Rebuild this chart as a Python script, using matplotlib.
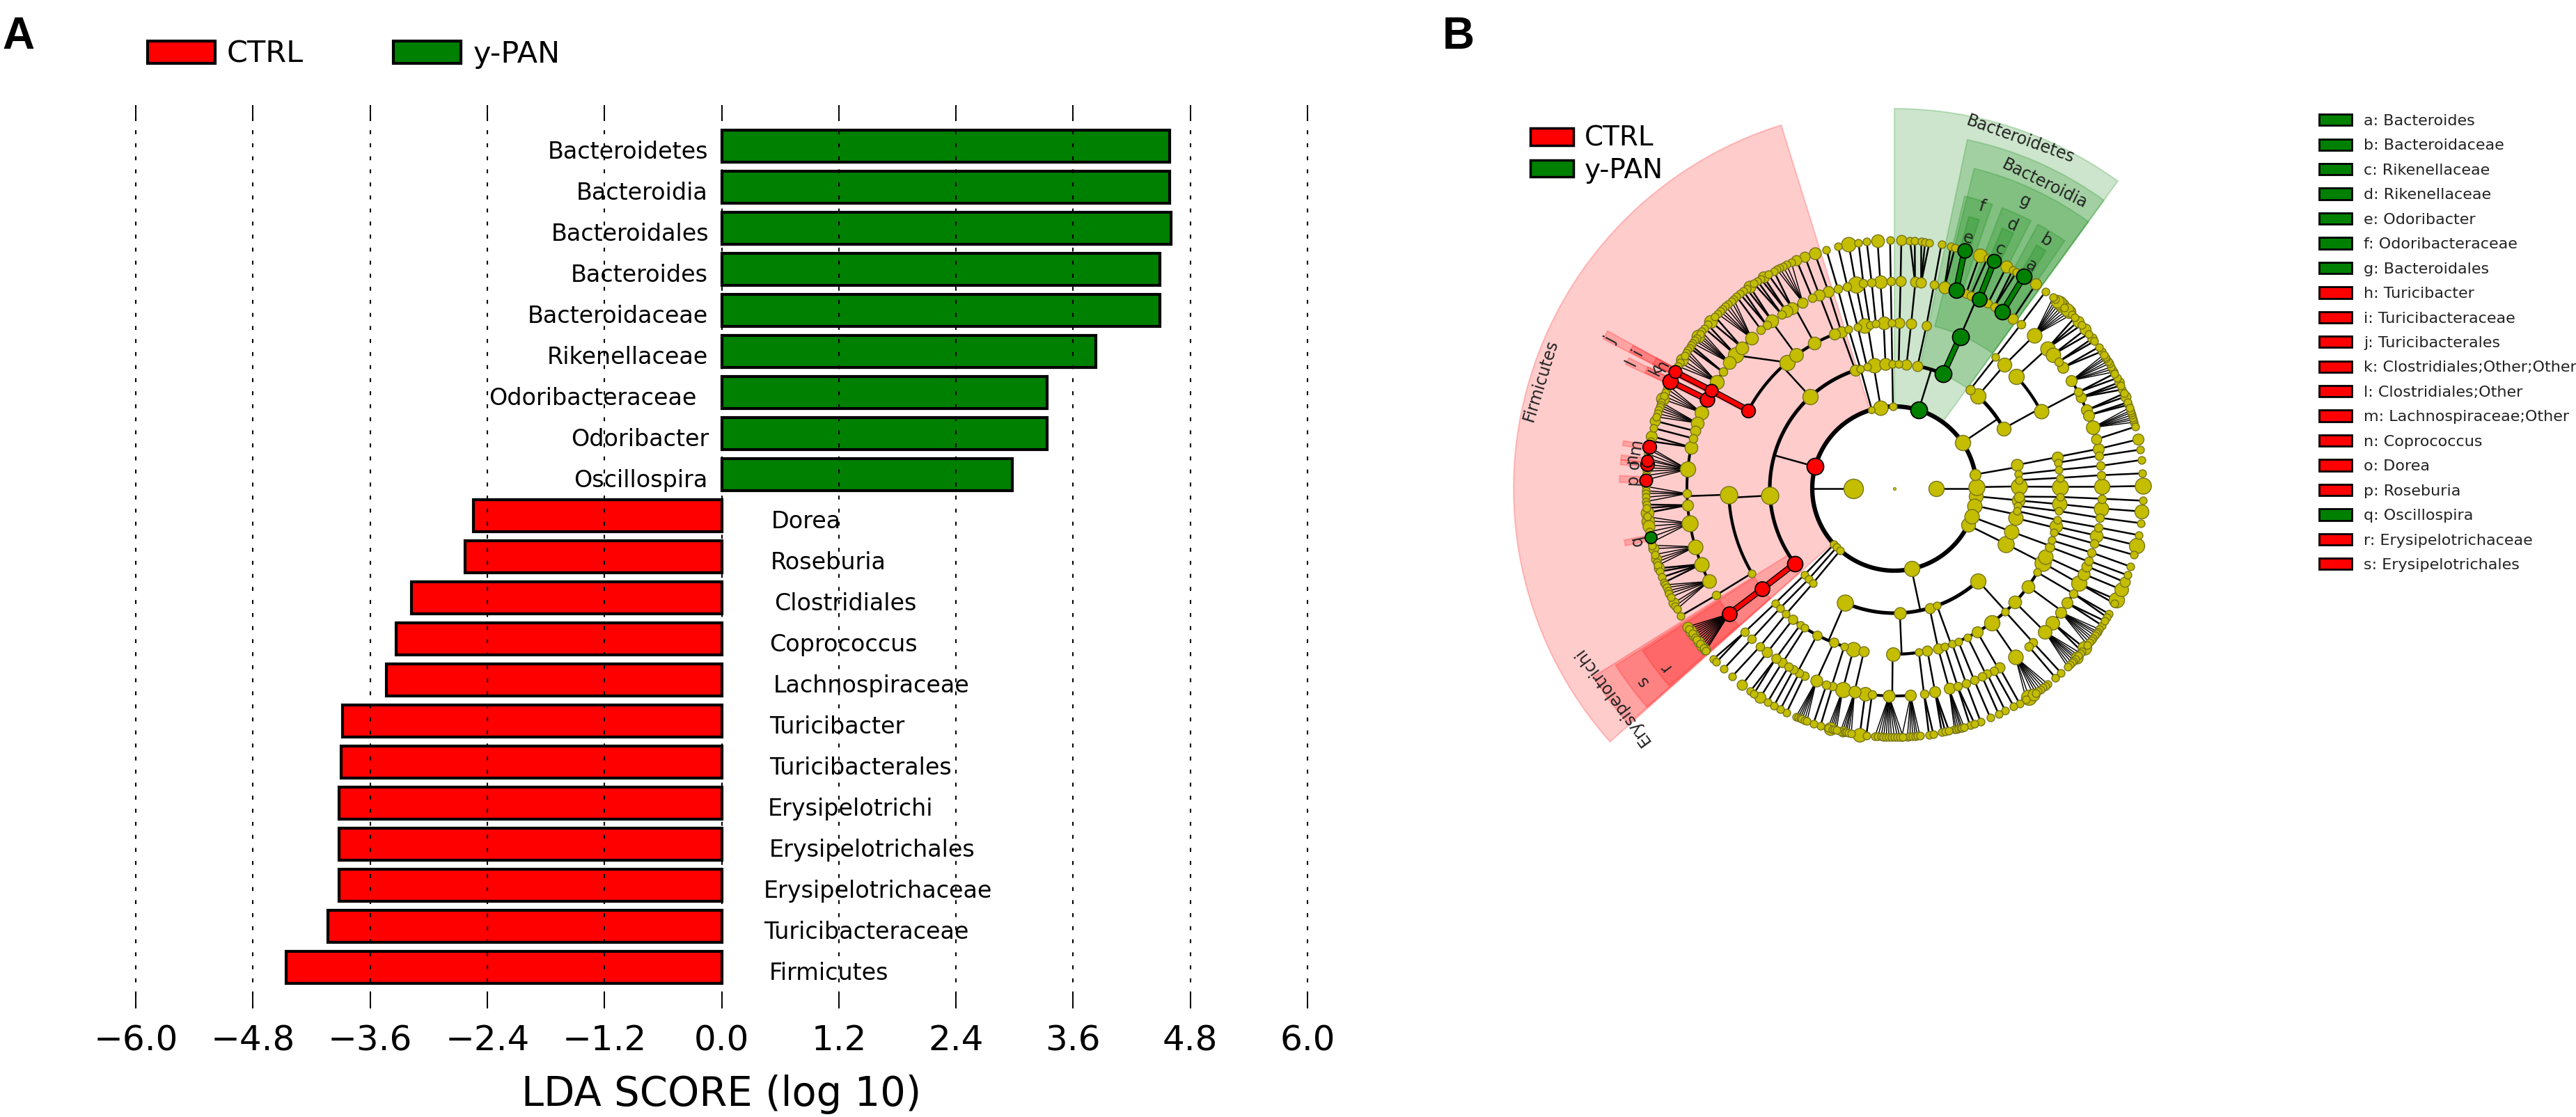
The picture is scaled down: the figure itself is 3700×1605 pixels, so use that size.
import numpy as np
import matplotlib
matplotlib.use("Agg")
import matplotlib.pyplot as plt
from matplotlib.patches import Patch, Wedge

GREEN = "#008000"
RED = "#ff0000"
OLIVE = "#c4bd00"

# panel A, top to bottom
taxa = ["Bacteroidetes", "Bacteroidia", "Bacteroidales", "Bacteroides", "Bacteroidaceae",
        "Rikenellaceae", "Odoribacteraceae", "Odoribacter", "Oscillospira", "Dorea",
        "Roseburia", "Clostridiales", "Coprococcus", "Lachnospiraceae", "Turicibacter",
        "Turicibacterales", "Erysipelotrichi", "Erysipelotrichales", "Erysipelotrichaceae",
        "Turicibacteraceae", "Firmicutes"]
lda_score = [4.59, 4.59, 4.60, 4.49, 4.49, 3.83, 3.33, 3.33, 2.98, -2.54, -2.63, -3.18,
             -3.33, -3.43, -3.88, -3.90, -3.92, -3.92, -3.92, -4.03, -4.46]
x_ticks = [-6.0, -4.8, -3.6, -2.4, -1.2, 0.0, 1.2, 2.4, 3.6, 4.8, 6.0]
# the labels in the source were moved by hand
label_nudge = [0, 0, 0.01, 0, 0, 0, -0.12, 0.01, 0, 0.01, 0, 0.04, -0.01, 0.03, -0.01,
               -0.01, -0.03, -0.01, -0.07, -0.07, -0.01]

# panel B, legend key
key_letters = list("abcdefghijklmnopqrs")
key_names = ["Bacteroides", "Bacteroidaceae", "Rikenellaceae", "Rikenellaceae", "Odoribacter",
             "Odoribacteraceae", "Bacteroidales", "Turicibacter", "Turicibacteraceae",
             "Turicibacterales", "Clostridiales;Other;Other", "Clostridiales;Other",
             "Lachnospiraceae;Other", "Coprococcus", "Dorea", "Roseburia", "Oscillospira",
             "Erysipelotrichaceae", "Erysipelotrichales"]
key_group = ["g"] * 7 + ["r"] * 9 + ["g"] + ["r"] * 2

# cladogram: for each rank, parent angle -> child angles (degrees, ccw from east)
rank_radius = {1: 59.5, 2: 118, 3: 179, 4: 238, 5: 298, 6: 357}
rank1_angle = [180, 0]
rank1_size = [28, 22]

rank3 = {164.5: [108.3, 132.5, 183.2, 217], 106: [105.8], 99.6: [102.7, 99.3, 94.1],
         91: [91, 88, 84.4], 72.8: [79.3, 66.9], 34: [52.6, 48, 28.8], 9.9: [10.9, 6.6],
         1: [3.9, 0.9], -5.4: [-3.7, -5.5, -8], -12: [-10.4, -13.7], -20: [-20.2],
         -26.4: [-26.4], -78: [246.6, 272.5, 286.4, 290, 312.2], 222.7: [223.8],
         225.5: [226.6], 228.8: [229.3]}

rank4 = {108.3: [108.7], 132.5: [151.8, 130.4, 126.3, 118.8, 111.2], 183.2: [182.1, 210.7],
         217: [217.2], 105.8: [106], 102.7: [102.8], 99.3: [100.5, 98.5, 96.4], 94.1: [93.7],
         91: [91], 88: [88.2], 84.4: [84.2], 79.3: [78.9], 66.9: [66.6], 52.6: [52.4],
         48: [48.3], 28.8: [42.5, 27.8], 10.9: [11, 9], 6.6: [6.5], 3.9: [3.7], 0.9: [0.6],
         -3.7: [-2.9], -5.5: [-5.4], -8: [-7.8], -10.4: [-10.9], -13.7: [-13.2, -15.4],
         -20.2: [-18.2, -20.6, -24.2], -26.4: [-26.6],
         246.6: [232.2, 235.4, 237.3, 242.2, 248.5, 252.4, 255.7, 259.4],
         272.5: [269.4, 278.5, 281.5], 286.4: [285.3], 290: [290.4, 287.7],
         312.2: [329.6, 323.8, 316.7, 312, 306, 300, 296.2, 292.7],
         223.8: [223.9], 226.6: [226.3], 229.3: [229.2]}

rank5 = {108.7: [108.5], 111.2: [111.2, 113.3], 118.8: [116.2, 119.5, 121.3, 122.9],
         126.3: [126.1, 128, 130], 130.4: [133.5, 137.2, 139.9, 142.6, 145.8, 149],
         151.8: [151.8, 154.6, 158.5, 161.6, 163.9, 166],
         182.1: [168.5, 174.7, 181.4, 184.6, 189.6, 196.3, 201.4, 206.6], 210.7: [210.9],
         217.2: [217.2], 106: [105.8], 102.8: [103.1], 100.5: [100.7], 98.5: [98.6],
         96.4: [96.3], 93.7: [93.9], 91: [91], 88.2: [88.3], 84.2: [84.3, 82.6], 78.9: [79],
         66.6: [76, 72.7, 69.8, 68.4, 65.9, 63.2, 61.2, 58.6, 55.1], 52.4: [52.4],
         48.3: [47.6], 42.5: [42.5, 40.2, 37.7, 35.7],
         27.8: [31.4, 27.7, 26.1, 22.2, 20.7, 17.1, 13.7], 11: [11], 9: [9.1], 6.5: [6.3],
         3.7: [3.7], 0.6: [0.5], -2.9: [-2.8], -5.4: [-5.5], -7.8: [-8.1], -10.9: [-10.8],
         -13.2: [-13.1], -15.4: [-15.4], -18.2: [-18], -20.6: [-20.4, -22], -24.2: [-24.3],
         -26.6: [-27.2], 329.6: [-30.4, -33.5], 323.8: [-36.6, -40.3], 316.7: [-43.6],
         312: [-48, -49.6], 306: [-54.3], 300: [-59.6, -61.4], 296.2: [-63.4, -65],
         292.7: [-67.4], 290.4: [-69.8], 287.7: [-72.3], 285.3: [-74.7], 281.5: [-78.7],
         278.5: [-81.8], 269.4: [-85.5, 268.5, 263.8, 261.9], 259.4: [258.9], 255.7: [255.6],
         252.4: [252.6, 250.9], 248.5: [247.9], 242.2: [244.3, 242.7],
         237.3: [240.9, 239.3, 237.2], 235.4: [235.1], 232.2: [232.2], 229.2: [229.6],
         226.3: [226.5], 223.9: [223.8]}

rank6 = {108.5: [108.7], 111.2: [111.1], 113.3: [113.2],
         116.2: [114.5, 115.7, 116.6, 117.5, 118.2], 119.5: [119, 120.5], 121.3: [121.7, 122.5],
         122.9: [123.4, 124.4], 126.1: [125.6, 126.5], 128: [127.4, 128.4], 130: [129.4],
         133.5: [130.3, 131, 132, 132.8, 133.8, 134.5, 135.3], 137.2: [136.2, 137.7],
         139.9: [138.7, 139.8], 142.6: [140.8, 141.5, 142.1, 142.8, 143.4, 144.2],
         145.8: [144.8, 145.5], 149: [146.2, 146.9, 147.6, 148.7, 149.6, 150.5],
         151.8: [152], 154.6: [154.4], 158.5: [155.5, 156.3, 157.2, 158.1, 158.9],
         161.6: [159.7, 160.3, 160.9, 161.6, 162.4, 163.2], 163.9: [164.2], 166: [165.9],
         168.5: [167.8, 169], 174.7: [170.4, 171, 172, 173, 173.5, 174.4, 175.2, 176, 177, 178],
         181.4: [179.5, 180.5, 181.1, 182, 183], 184.6: [183.7, 184.5, 185.6],
         189.6: [186.5, 187.5, 188.7, 190, 191.3, 192.5], 196.3: [193.2, 194, 195.4, 196.4, 197.2, 198],
         201.4: [198.7, 199.5, 200.9, 202.2], 206.6: [202.8, 203.5, 204.3, 205, 205.9, 207.4, 208.2, 209],
         210.9: [210.8],
         217.2: [213.8, 214.4, 215, 215.6, 216.2, 216.8, 217.4, 218, 218.6, 219.2, 219.8, 220.3, 220.7],
         105.8: [105.9], 103.1: [103.1], 100.7: [100.6], 98.6: [98.3], 96.3: [96.4], 93.9: [93.9],
         91: [91], 88.3: [88.4], 84.3: [86.4, 85.3], 82.6: [83.8, 82.9, 81.9], 79: [79.1],
         76: [76.9, 75.9], 72.7: [73.6], 69.8: [69.9], 68.4: [68], 65.9: [66.3, 67], 63.2: [63.2],
         61.2: [61.6, 60.6], 58.6: [58.6], 55.1: [55.3], 52.4: [52.5],
         47.6: [44.5, 45.3, 46, 46.8, 47.5, 48.3, 49, 49.6, 50.3], 42.5: [41.2, 42.3, 43.5],
         40.2: [38.5, 39.8], 37.7: [36.4, 37.2], 35.7: [33.5, 34.7],
         31.4: [28, 28.7, 29.3, 30.2, 30.8, 31.5, 32, 32.6], 27.7: [26.4, 27.6],
         26.1: [23.5, 24.5, 25.3], 22.2: [21.7, 22.5], 20.7: [19.7, 20.3],
         17.1: [15.5, 16.1, 16.6, 17.2, 17.8, 18.3, 19], 13.7: [14.4], 11: [11.4], 9.1: [9],
         6.3: [6.6], 3.7: [3.5], 0.5: [0.6], -2.8: [-2.8], -5.5: [-5.3], -8.1: [-8], -10.8: [-10.8],
         -13.1: [-13.2], -15.4: [-15.5], -18: [-18.3], -20.4: [-20.4], -22: [-22.1], -24.3: [-24],
         -27.2: [-26.6, -27.6], -30.4: [-30.3, -31.2], -33.5: [-33.4, -32.2],
         -36.6: [-34.5, -35.2, -35.7, -36.3, -37, -37.6, -38.3, -39], -40.3: [-40, -41],
         -43.6: [-41.5, -42.2, -42.8, -43.3, -43.9, -44.5, -45.2, -45.8], -48: [-47.9],
         -49.6: [-49.6], -54.3: [-51.9, -52.6, -53.3, -54, -54.7, -55.3, -56, -57.2, -58],
         -59.6: [-59.8], -61.4: [-61.3], -63.4: [-63.5], -65: [-65.2], -67.4: [-67.3],
         -69.8: [-69.7], -72.3: [-72.3, -71.2], -74.7: [-76, -75.6, -75.1, -74.6, -74.2, -73.7],
         -78.7: [-79, -78.2, -77.3], -81.8: [-82, -81],
         -85.5: [-88.3, -87, -86.4, -85.8, -85.2, -84.7, -84.1],
         268.5: [265.5, 266.2, 266.9, 267.5, 268.1, 268.7, 269.3, 270, 270.7, 271.3, 272],
         263.8: [263.5], 261.9: [262], 258.9: [257.5, 258, 258.5, 258.9, 259.4, 260],
         255.6: [254.5, 255, 255.5, 256, 256.5], 252.6: [252.7], 250.9: [251],
         247.9: [246.7, 247.2, 247.7, 248.2, 248.8, 249.4], 244.3: [244.3], 242.7: [242.7],
         240.9: [241], 239.3: [239.3], 237.2: [237.3], 235.1: [234.6, 235.6], 232.2: [232.2],
         229.6: [229.2], 226.5: [226.6], 223.8: [223.3, 224.3]}

# node diameters where they differ from the default of their rank
size2 = {164.5: 24, 72.8: 24, 106: 8, 99.6: 17, 91: 9, 34: 22, 9.9: 13, 1: 19, -5.4: 20, -12: 17,
         -20: 17, -26.4: 20, -78: 22}
size3 = {108.3: 13, 99.3: 17, 94.1: 14, 84.4: 12, 79.3: 12, 66.9: 24, 132.5: 22, 183.2: 25,
         217: 22, 52.6: 11, 48: 22, 28.8: 20, 10.9: 14, 0.9: 19, -3.7: 12, -5.5: 15, -13.7: 17,
         -20.2: 17, -26.4: 19, 246.6: 19, 272.5: 14, 286.4: 12, 312.2: 22}
size4 = {151.8: 16, 130.4: 22, 126.3: 16, 118.8: 15, 111.2: 13, 108.7: 13, 100.5: 17, 93.7: 15,
         88.2: 12, 84.2: 12, 78.9: 11, 66.6: 24, 48.3: 20, 42.5: 18, 27.8: 17, 182.1: 25, 217.2: 21,
         11: 13, 0.6: 19, -5.4: 17, -13.2: 15, -20.6: 11, -24.2: 17, -26.6: 19, 323.8: 15,
         316.7: 15, 306: 22, 300: 13, 285.3: 12, 281.5: 12, 269.4: 16, 259.4: 12, 255.7: 17,
         248.5: 11, 242.2: 11, 232.2: 11}
size5 = {133.5: 15, 137.2: 15, 139.9: 18, 142.6: 15, 149: 20, 126.1: 15, 119.5: 14, 121.3: 14,
         116.2: 12, 111.2: 13, 108.5: 13, 151.8: 15, 154.6: 17, 158.5: 16, 161.6: 15, 163.9: 12,
         168.5: 15, 174.7: 22, 184.6: 13, 189.6: 23, 196.3: 21, 201.4: 17, 206.6: 16, 217.2: 21,
         100.7: 19, 93.9: 15, 88.3: 12, 84.3: 12, 82.6: 12, 76: 14, 72.7: 18, 65.9: 21, 58.6: 22,
         55.1: 12, 47.6: 21, 42.5: 17, 40.2: 17, 35.7: 13, 31.4: 13, 26.1: 12, 22.2: 13, 20.7: 13,
         17.1: 16, 13.7: 12, 11: 13, 0.5: 18, -5.5: 17, -13.1: 15, -20.4: 10, -22: 12, -24.3: 14,
         -27.2: 18, -33.5: 13, -36.6: 13, -40.3: 16, -43.6: 16, -54.3: 21, -59.6: 12, -74.7: 13,
         -78.7: 13, -85.5: 13, 268.5: 14, 261.9: 16, 258.9: 14, 255.6: 18, 247.9: 14, 237.2: 11,
         235.1: 11, 232.2: 12}
size6 = {108.7: 14, 111.1: 12, 113.2: 12, 121.7: 13, 125.6: 14, 137.7: 15, 142.1: 15, 148.7: 14,
         158.9: 15, 164.2: 12, 167.8: 13, 185.6: 15, 187.5: 15, 188.7: 14, 194: 12, 196.4: 12,
         198.7: 12, 207.4: 12, 152: 15, 154.4: 18, 170.4: 16, 173.5: 14, 174.4: 16, 178: 15,
         191.3: 14, 100.6: 17, 93.9: 15, 88.4: 12, 69.9: 16, 73.6: 17, 66.3: 20, 63.2: 14, 58.6: 22,
         55.3: 13, 47.5: 16, 48.3: 16, 46: 15, 45.3: 15, 49: 15, 42.3: 13, 39.8: 13, 37.2: 11,
         21.7: 12, 25.3: 11, 11.4: 13, 0.6: 19, -5.3: 20, -13.2: 18, -24: 16, -22.1: 12, -26.6: 18,
         -40: 16, -42.8: 14, -57.2: 18, -56: 14, 255: 15, 262: 16, 258: 12, 232.2: 12, 237.3: 13,
         213.8: 12, 215: 13, 216.2: 12, 218: 12, 219.2: 12, 220.3: 12}
rank_sizes = {2: size2, 3: size3, 4: size4, 5: size5, 6: size6}
rank_default = {2: 9, 3: 9, 4: 9, 5: 10, 6: 9}

red_nodes = {2: [164.5], 3: [217], 4: [217.2, 151.8], 5: [217.2, 151.8, 154.6],
             6: [152, 154.4, 170.4, 173.5, 174.4, 178]}
green_nodes = {2: [72.8], 3: [66.9], 4: [66.6], 5: [72.7, 65.9, 58.6],
               6: [73.6, 66.3, 58.6, 191.3]}
thick_edges = {4: [217.2, 66.6], 5: [217.2, 151.8], 6: [152, 154.4, 73.6, 66.3, 58.6]}
# parent whose stem meets its arc away from its own angle
stem_angle = {130.4: 140}

# shaded sectors: start, end, inner, outer, colour
sector_start = [54, 54, 54, 71, 63, 55.5, 72.5, 65, 57.5, 107.3, 212, 212.4, 212.8,
                151.2, 151.3, 151.2, 153.8, 153.7, 170, 173, 174, 177.3, 190.8]
sector_end = [90, 78.2, 76, 76.5, 69, 61.5, 74.7, 67.5, 59.7, 221.7, 221.5, 221.5, 221.2,
              152.8, 152.7, 152.8, 155.2, 155.1, 171, 174, 175, 178.7, 192]
sector_inner = [120, 178, 240, 298, 298, 298, 357, 357, 357, 120, 178, 238, 298,
                238, 298, 357, 298, 357, 357, 357, 357, 357, 357]
sector_outer = [546, 512, 474, 432, 432, 432, 405, 405, 405, 547, 510, 474, 430,
                470, 428, 390, 425, 395, 395, 395, 395, 395, 395]
sector_color = ["g"] * 9 + ["r"] * 14

clade_names = ["Bacteroidetes", "Bacteroidia", "Firmicutes", "Erysipelotrichi", "g", "f", "d", "b",
               "e", "c", "a", "r", "s", "j", "i", "l", "k", "h", "m", "n", "o", "p", "q"]
clade_angle = [70.2, 63.8, 163, 216.3, 65.6, 72.8, 65.9, 58.5, 73.7, 66.2, 58.5, 217.7, 217.4,
               152.3, 152, 154.4, 153.6, 152, 170.7, 173.4, 174.7, 178.1, 191.5]
clade_radius = [533, 488, 531, 504, 453, 424, 415, 417, 375, 376, 375, 417, 455,
                460, 418, 419, 382, 377, 376, 380, 375, 376, 377]


def pol(angle, r):
    a = np.deg2rad(angle)
    return r * np.cos(a), r * np.sin(a)


def node_color(rank, angle):
    if angle in red_nodes.get(rank, []):
        return RED, "black"
    if angle in green_nodes.get(rank, []):
        return GREEN, "black"
    return OLIVE, "#77751a"


def draw_edges(ax, children, rank, arc_width):
    r_in, r_out = rank_radius[rank - 1], rank_radius[rank]
    for parent, kids in children.items():
        near = [parent + ((k - parent + 180) % 360 - 180) for k in kids]
        stem = stem_angle.get(parent, parent) if rank == 5 else parent
        if rank == 6:
            w = 1.05 if len(kids) > 4 else 1.8
            for a in near:
                x0, y0 = pol(parent, r_in)
                x1, y1 = pol(a, r_out)
                ax.plot([x0, x1], [y0, y1], color="black", lw=w, zorder=3)
            continue
        if len(kids) > 1:
            sweep = np.linspace(min(near + [stem]), max(near + [stem]), 80)
            ax.plot(*pol(sweep, r_out), color="black", lw=arc_width, zorder=3,
                    solid_capstyle="butt")
        x0, y0 = pol(parent, r_in)
        x1, y1 = pol(stem if len(kids) > 1 else near[0], r_out)
        ax.plot([x0, x1], [y0, y1], color="black", lw=1.8, zorder=3)


def draw_thick(ax, children, rank):
    for parent, kids in children.items():
        for k in kids:
            if k not in thick_edges.get(rank, []):
                continue
            col = RED if k in red_nodes[rank] else GREEN
            x0, y0 = pol(parent, rank_radius[rank - 1])
            x1, y1 = pol(k, rank_radius[rank])
            ax.plot([x0, x1], [y0, y1], color="black", lw=6.5, zorder=4)
            ax.plot([x0, x1], [y0, y1], color=col, lw=4.5, zorder=4)


plt.rcParams["font.family"] = ["DejaVu Sans"]
fig = plt.figure(figsize=(37, 16.05), dpi=100)

# ---- panel A
ax = fig.add_axes([195 / 3700, 156 / 1605, 1683 / 3700, 1298 / 1605])
ypos = np.arange(len(taxa))[::-1]
colors = [GREEN if v > 0 else RED for v in lda_score]
ax.barh(ypos, lda_score, height=0.78, color=colors, edgecolor="black", linewidth=3, zorder=2)
ax.set_xlim(-6, 6)
ax.set_ylim(-1, 21)
ax.set_yticks([])
ax.set_xticks(x_ticks)
ax.set_xticklabels([f"{t:.1f}".replace("-", "\u2212") for t in x_ticks])
ax.tick_params(axis="x", top=True, direction="in", length=15, width=1.4, labelsize=36, pad=16)
ax.grid(axis="x", color="black", lw=1.5, linestyle=(0, (2.7, 6.3)), zorder=3)
for gl in ax.get_xgridlines():
    gl.set_clip_on(False)
ax.set_axisbelow(False)
for s in ax.spines.values():
    s.set_visible(False)
ax.set_xlabel("LDA SCORE (log 10)", fontsize=41.5, labelpad=18)
for name, v, y, n in zip(taxa, lda_score, ypos, label_nudge):
    if v > 0:
        ax.text(-0.14 + n, y - 0.14, name, ha="right", va="center", fontsize=24, zorder=5)
    else:
        ax.text(0.5 + n, y - 0.14, name, ha="left", va="center", fontsize=24, zorder=5)
ax.legend(handles=[Patch(fc=RED, ec="black", lw=3, label="CTRL"),
                   Patch(fc=GREEN, ec="black", lw=3, label="y-PAN")],
          ncol=2, frameon=False, fontsize=31, handlelength=2.25, handleheight=0.78,
          handletextpad=0.4, columnspacing=3.0, borderpad=0, borderaxespad=0,
          loc="upper left", bbox_to_anchor=(212 / 3700, 1 - 57 / 1605),
          bbox_transform=fig.transFigure)

# ---- panel B, axes units are pixels from the centre of the tree
bx = fig.add_axes([2000 / 3700, 455 / 1605, 1300 / 3700, 1150 / 1605])
bx.set_xlim(2000 - 2721, 3300 - 2721)
bx.set_ylim(702 - 1150, 702)
bx.axis("off")

for t1, t2, r0, r1, c in zip(sector_start, sector_end, sector_inner, sector_outer, sector_color):
    col = GREEN if c == "g" else RED
    bx.add_patch(Wedge((0, 0), r1, t1, t2, width=r1 - r0, fc=col, ec=col, lw=1.5, alpha=0.2, zorder=1))

# rings next to the root
sweep = np.linspace(0, 360, 300)
bx.plot(*pol(sweep, rank_radius[2]), color="black", lw=4.5, zorder=3)
for a in rank1_angle:
    x0, y0 = pol(a, rank_radius[1])
    x1, y1 = pol(a, rank_radius[2])
    bx.plot([x0, x1], [y0, y1], color="black", lw=1.8, zorder=3)

levels = {3: rank3, 4: rank4, 5: rank5, 6: rank6}
arc_widths = {3: 3.7, 4: 3.1, 5: 2.8}
for rank, children in levels.items():
    draw_edges(bx, children, rank, arc_widths.get(rank, 1))
    draw_thick(bx, children, rank)

# nodes, largest first so small ones stay visible
nodes = [(1, a, d) for a, d in zip(rank1_angle, rank1_size)]
for a in rank3:
    nodes.append((2, a, size2.get(a, rank_default[2])))
for rank, children in levels.items():
    seen = set()
    for kids in children.values():
        for k in kids:
            if k not in seen:
                seen.add(k)
                nodes.append((rank, k, rank_sizes[rank].get(k, rank_default[rank])))
for rank, a, d in sorted(nodes, key=lambda n: -n[2]):
    x, y = pol(a, rank_radius[rank])
    fc, ec = node_color(rank, a)
    scale = 1.0 if d >= 20 else 1.22
    bx.scatter([x], [y], s=(d * scale * 0.72) ** 2, c=fc, edgecolors=ec,
               linewidths=1.3 if ec == "black" else 1.0, zorder=6 if fc != OLIVE else 5)
bx.scatter([0], [0], s=9, c=OLIVE, edgecolors="#77751a", linewidths=0.6, zorder=5)

for name, a, r in zip(clade_names, clade_angle, clade_radius):
    x, y = pol(a, r)
    bx.text(x, y, name, rotation=a - 90, rotation_mode="anchor", ha="center", va="center",
            fontsize=17, color="#222222", zorder=7)

bx.legend(handles=[Patch(fc=RED, ec="black", lw=2.5, label="CTRL"),
                   Patch(fc=GREEN, ec="black", lw=2.5, label="y-PAN")],
          frameon=False, fontsize=28, handlelength=1.6, handleheight=0.6, handletextpad=0.4,
          labelspacing=0.2, borderpad=0, borderaxespad=0, loc="upper left",
          bbox_to_anchor=(2198 / 3700, 1 - 180 / 1605), bbox_transform=fig.transFigure)

key_handles = [Patch(fc=GREEN if g == "g" else RED, ec="black", lw=2, label=f"{l}: {n}")
               for l, n, g in zip(key_letters, key_names, key_group)]
key = fig.legend(handles=key_handles, frameon=False, fontsize=16, handlelength=2.1, handleheight=0.75,
                 handletextpad=0.8, labelspacing=0.695, borderpad=0, borderaxespad=0,
                 loc="upper left", bbox_to_anchor=(3331 / 3700, 1 - 164 / 1605))
for t in key.get_texts():
    t.set_color("#222222")

fig.text(3 / 3700, 1 - 70 / 1605, "A", fontsize=46, fontweight="bold", family="Liberation Sans")
fig.text(2072 / 3700, 1 - 70 / 1605, "B", fontsize=46, fontweight="bold", family="Liberation Sans")

fig.savefig("out.png", dpi=100, facecolor="white")
